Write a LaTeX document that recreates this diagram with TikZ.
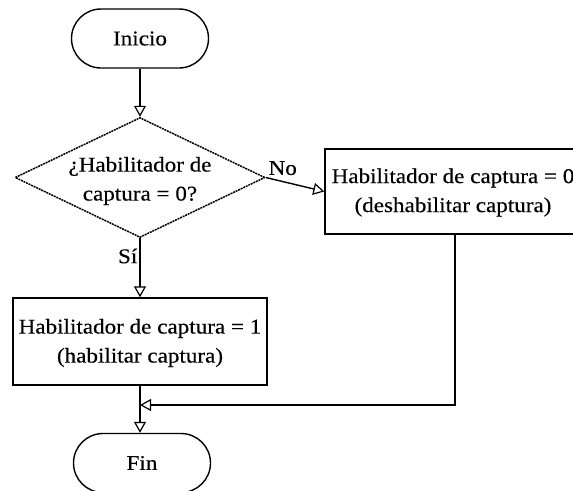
\documentclass[tikz,border=0pt]{standalone}
\usepackage{fontspec}
\setmainfont{Liberation Serif}[FakeStretch=1.1,FakeBold=0.3]
\usetikzlibrary{shapes.geometric,shapes.misc,arrows.meta}
\begin{document}
\begin{tikzpicture}[x=1pt,y=-1pt,
  every node/.style={font=\fontsize{21}{29}\selectfont},
  lw/.style={line width=1.4pt},
  term/.style={lw,draw,rounded rectangle,minimum width=137pt,minimum height=59pt,inner sep=0pt},
  procbox/.style={lw,draw,rectangle,inner sep=0pt,align=center},
  decision/.style={line width=1.5pt,draw,dash pattern=on 2pt off 0.8pt,diamond,inner sep=0pt,minimum width=250pt,minimum height=120pt},
  arr/.style={lw,-{Triangle[open,length=11pt,width=12pt,line width=1.2pt]}},
  txt/.style={align=center,inner sep=0pt}
]
\useasboundingbox (0,0) rectangle (573,490);
\clip (0,0) rectangle (573,490);
\fill[white] (0,0) rectangle (573,490);

\node[term] (ini) at (140,38.5) {Inicio};
\node[decision] (dec) at (140,177.5) {};
\node[txt] (dect) at (140,181) {¿Habilitador de\\captura = 0?};
\node[procbox,minimum width=253pt,minimum height=85pt] (boxR) at (451.5,191.5) {};
\node[txt] (boxRt) at (453,192.5) {Habilitador de captura = 0\\(deshabilitar captura)};
\node[procbox,minimum width=254pt,minimum height=87pt] (boxL) at (140,341.5) {};
\node[txt] (boxLt) at (140,343) {Habilitador de captura = 1\\(habilitar captura)};
\node[term] (fin) at (142,463) {Fin};
\coordinate (m) at (140,405);

\draw[arr] (ini.south) -- (dec.north);
\draw[arr] (dec.east) -- node[pos=0.02,above right,inner sep=1pt,yshift=1pt] (no) {No} (boxR.west);
\draw[arr] (dec.south) -- node[pos=0.3,left,inner sep=2pt] (si) {Sí} (boxL.north);
\draw[lw] (boxL.south) -- (m);
\draw[arr] (m) -- (fin.north -| m);
\draw[arr] (boxR.south -| 455,0) |- (m);
\end{tikzpicture}
\end{document}
